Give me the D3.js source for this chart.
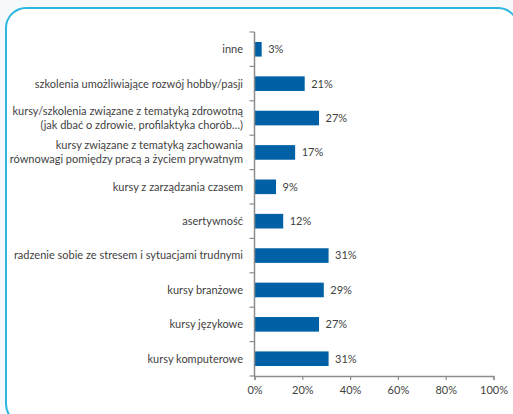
<!DOCTYPE html>
<html>
<head>
<meta charset="utf-8">
<script src="https://cdn.jsdelivr.net/npm/d3@7"></script>
<style>
  html, body { margin: 0; padding: 0; background: #f6f9fb; }
  svg { display: block; }
  text { font-family: Lato, "Open Sans", sans-serif; fill: #3f3f3f; }
</style>
</head>
<body>
<svg id="chart" width="513" height="414"></svg>
<script>
// Categories, top to bottom (line breaks marked with \n)
const categories = [
  "inne",
  "szkolenia umożliwiające rozwój hobby/pasji",
  "kursy/szkolenia związane z tematyką zdrowotną\n(jak dbać o zdrowie, profilaktyka chorób…)",
  "kursy związane z tematyką zachowania\nrównowagi pomiędzy pracą a życiem prywatnym",
  "kursy z zarządzania czasem",
  "asertywność",
  "radzenie sobie ze stresem i sytuacjami trudnymi",
  "kursy branżowe",
  "kursy językowe",
  "kursy komputerowe"
];
// Share of respondents, %
const values = [3, 21, 27, 17, 9, 12, 31, 29, 27, 31];
const xTicks = [0, 20, 40, 60, 80, 100];

const svg = d3.select("#chart");
const fontSize = "11px";

// rounded panel
svg.append("rect")
  .attr("x", 6).attr("y", 8)
  .attr("width", 512).attr("height", 416)
  .attr("rx", 20).attr("ry", 20)
  .attr("fill", "#ffffff")
  .attr("stroke", "#2db6de")
  .attr("stroke-width", 2);

const x = d3.scaleLinear().domain([0, 100]).range([254.5, 493.5]);
const y = d3.scaleBand().domain(d3.range(categories.length)).range([32, 376]).paddingInner(0.575).paddingOuter(0.29);
const band = d3.scaleBand().domain(d3.range(categories.length)).range([32, 376]);

// bars
svg.append("g").selectAll("rect")
  .data(values)
  .join("rect")
  .attr("x", x(0))
  .attr("y", (d, i) => y(i))
  .attr("width", d => x(d) - x(0))
  .attr("height", y.bandwidth())
  .attr("fill", "#0060a6");

// value labels
svg.append("g").selectAll("text")
  .data(values)
  .join("text")
  .attr("x", d => x(d) + 6.5)
  .attr("y", (d, i) => y(i) + y.bandwidth() / 2)
  .attr("dy", "0.35em")
  .attr("font-size", fontSize)
  .text(d => d + "%");

// category labels
const labels = svg.append("g").selectAll("text")
  .data(categories)
  .join("text")
  .attr("text-anchor", "end")
  .attr("font-size", fontSize)
  .attr("y", (d, i) => y(i) + y.bandwidth() / 2);
labels.each(function(d) {
  const lines = d.split("\n");
  const t = d3.select(this);
  lines.forEach((ln, k) => {
    t.append("tspan")
      .attr("x", 243)
      .attr("dy", k === 0 ? (0.35 - (lines.length - 1) * 0.62) + "em" : "1.24em")
      .text(ln);
  });
});

// category axis with tick marks on band boundaries
const axisColor = "#8c8c8c";
svg.append("line")
  .attr("x1", x(0)).attr("x2", x(0))
  .attr("y1", 32).attr("y2", 377)
  .attr("stroke", axisColor).attr("stroke-width", 1.5);
svg.append("g").selectAll("line")
  .data(d3.range(categories.length + 1))
  .join("line")
  .attr("x1", x(0) - 5).attr("x2", x(0))
  .attr("y1", i => i < categories.length ? band(i) : 376)
  .attr("y2", i => i < categories.length ? band(i) : 376)
  .attr("stroke", axisColor).attr("stroke-width", 1.2);

// value axis
const xAxis = d3.axisBottom(x)
  .tickValues(xTicks)
  .tickSize(4)
  .tickPadding(6)
  .tickFormat(d => d + "%");
const gx = svg.append("g").attr("transform", "translate(0,376)").call(xAxis);
gx.select(".domain").attr("stroke", axisColor).attr("stroke-width", 1.5);
gx.selectAll(".tick line").attr("stroke", axisColor).attr("stroke-width", 1.2);
gx.selectAll(".tick text")
  .attr("font-size", fontSize)
  .attr("font-family", "Lato, 'Open Sans', sans-serif")
  .attr("fill", "#3f3f3f");
</script>
</body>
</html>
